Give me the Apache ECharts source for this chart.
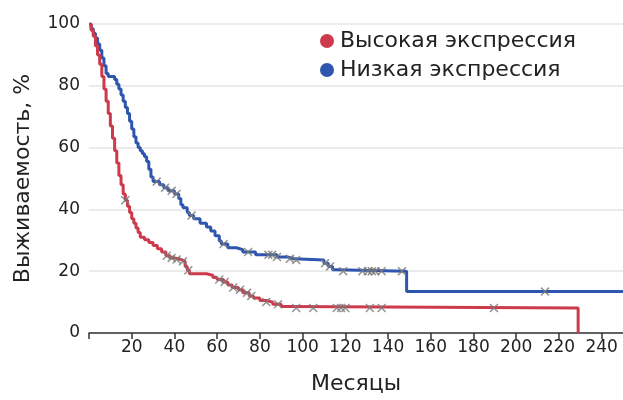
<!DOCTYPE html>
<html>
<head>
<meta charset="utf-8">
<script src="https://cdn.jsdelivr.net/npm/echarts@6/dist/echarts.min.js"></script>
<style>
html, body { margin: 0; padding: 0; background: #fff; }
#chart { width: 623px; height: 400px; }
</style>
</head>
<body>
<div id="chart"></div>
<script>
// данные: [месяц, выживаемость %]
var highExpr = [[0,100],[1,98],[2,96],[3,93],[4,90],[5,87],[6,83],[7,79],[8,75],[9,71],[10,67],[11,63],[12,59],[13,55],[14,51],[15,48],[16,45],[17,43],[18,41],[19,39],[20,37],[21,35.5],[22,34],[23,32.5],[24,31],[26,30.2],[28,29.3],[30,28.3],[32,27.3],[34,26.2],[36,25],[38,24.3],[40,23.8],[43,23.2],[45,21.5],[46,20.3],[47,19.2],[55,18.7],[58,18],[60,17.3],[63,16.5],[65,15.5],[67,14.7],[70,14],[72,13],[75,12],[77,11.3],[80,10.5],[83,10],[86,9.3],[90,8.6],[93,8.1],[229,0]];
var lowExpr = [[0,100],[1,98.5],[2,97],[3,95.5],[4,93.5],[5,91.5],[6,89],[7,86.5],[8,84],[9,83],[12,82],[13,80.5],[14,79],[15,77],[16,75],[17,73],[18,71],[19,68.5],[20,66],[21,63.5],[22,61.5],[23,60],[24,59],[25,58],[26,57],[27,55.5],[28,53],[29,50.5],[30,49],[33,48],[35,47],[37,46],[40,45],[42,43.5],[43,41.5],[44,40.5],[46,39],[47,38],[49,37],[52,35.5],[55,34.3],[57,33],[59,31.5],[61,29.8],[62,28.8],[65,27.6],[69,27],[72,26.2],[78,25.3],[88,24.6],[93,24],[96,23.6],[110,22.6],[112,21.5],[114,20.5],[116,20],[148.7,13.4],[250,13.4]];

// цензурированные наблюдения (месяцы)
var highCensor = [17, 36.4, 38.7, 41, 44, 46.5, 61, 63.5, 67.5, 70.7, 74, 76, 83, 88.5, 97, 105, 116, 118, 120, 131.5, 137, 189.6];
var lowCensor = [31.7, 35.6, 38.7, 41, 48, 63, 74.5, 84, 85.7, 88, 94, 97, 110.5, 112.8, 119, 128, 130.6, 132.4, 134, 137, 146.5, 213.5];

var seriesNames = ['Высокая экспрессия', 'Низкая экспрессия'];
var colors = ['#cc3a4b', '#2e56ae'];

// значение ступенчатой кривой в момент t
function valueAt(curve, t) {
	var v = curve[0][1];
	for (var p of curve) {
		if (p[0] <= t) v = p[1];
	}
	return v;
}
function censorPoints(curve, times) {
	var out = [];
	for (var t of times) out.push([t, valueAt(curve, t)]);
	return out;
}

var crossSymbol = 'path://M0,1.2L1.2,0L5,3.8L8.8,0L10,1.2L6.2,5L10,8.8L8.8,10L5,6.2L1.2,10L0,8.8L3.8,5Z';
var font = 'DejaVu Sans';

var chart = echarts.init(document.getElementById('chart'));
chart.setOption({
	animation: false,
	color: colors,
	textStyle: { fontFamily: font },
	grid: { left: 89, right: 0, top: 24, bottom: 67 },
	legend: {
		data: seriesNames,
		orient: 'vertical',
		left: 315,
		top: 25,
		icon: 'circle',
		itemWidth: 14,
		itemHeight: 14,
		itemGap: 7,
		textStyle: { fontSize: 22, lineHeight: 22, color: '#222', fontFamily: font, padding: [0, 0, 0, 1] }
	},
	xAxis: {
		type: 'value',
		min: 0,
		max: 250,
		interval: 20,
		name: 'Месяцы',
		nameLocation: 'middle',
		nameGap: 40,
		nameTextStyle: { fontSize: 22, color: '#222' },
		axisLine: { lineStyle: { color: '#333', width: 1.5 } },
		axisTick: { show: true, length: 6, lineStyle: { color: '#333', width: 1.5 } },
		axisLabel: {
			fontSize: 17, color: '#222', margin: 6,
			formatter: function (v) { return v === 0 ? '' : v; }
		},
		splitLine: { show: false }
	},
	yAxis: {
		type: 'value',
		min: 0,
		max: 100,
		interval: 20,
		name: 'Выживаемость, %',
		nameLocation: 'middle',
		nameGap: 55,
		nameTextStyle: { fontSize: 22, color: '#222' },
		axisLine: { show: false },
		axisTick: { show: false },
		axisLabel: { fontSize: 17, color: '#222', margin: 9 },
		splitLine: { lineStyle: { color: '#e6e6e6', width: 1.5 } }
	},
	series: [
		{
			name: seriesNames[0], type: 'line', step: 'end', data: highExpr,
			showSymbol: false, lineStyle: { width: 3, color: colors[0] }, z: 3
		},
		{
			name: seriesNames[1], type: 'line', step: 'end', data: lowExpr,
			showSymbol: false, lineStyle: { width: 3, color: colors[1] }, z: 2
		},
		{
			name: 'censor-high', type: 'scatter', data: censorPoints(highExpr, highCensor),
			symbol: crossSymbol, symbolSize: 9, itemStyle: { color: '#7a7a7a' }, z: 4
		},
		{
			name: 'censor-low', type: 'scatter', data: censorPoints(lowExpr, lowCensor),
			symbol: crossSymbol, symbolSize: 9, itemStyle: { color: '#7a7a7a' }, z: 4
		}
	]
});
</script>
</body>
</html>
